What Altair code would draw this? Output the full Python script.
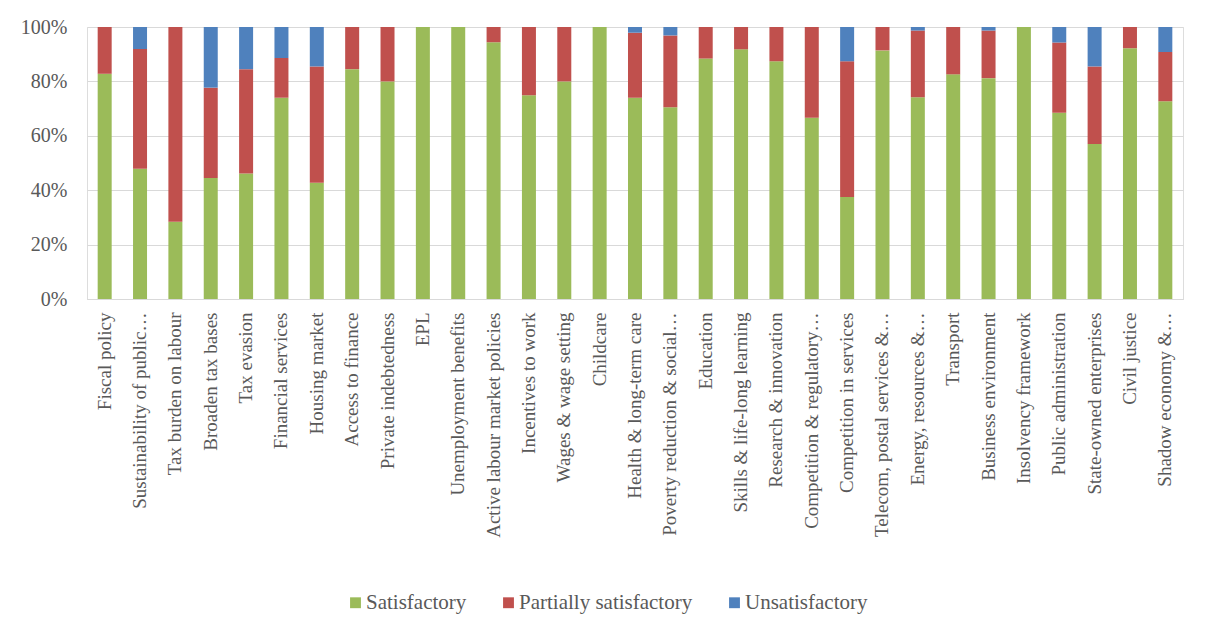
import altair as alt
import pandas as pd

categories = [
    "Fiscal policy", "Sustainability of public…", "Tax burden on labour", "Broaden tax bases",
    "Tax evasion", "Financial services", "Housing market", "Access to finance",
    "Private indebtedness", "EPL", "Unemployment benefits", "Active labour market policies",
    "Incentives to work", "Wages & wage setting", "Childcare", "Health & long-term care",
    "Poverty reduction & social…", "Education", "Skills & life-long learning",
    "Research & innovation", "Competition & regulatory…", "Competition in services",
    "Telecom, postal services &…", "Energy, resources &…", "Transport", "Business environment",
    "Insolvency framework", "Public administration", "State-owned enterprises",
    "Civil justice", "Shadow economy &…",
]

satisfactory = [82.8, 47.9, 28.4, 44.5, 46.1, 74.0, 42.7, 84.5, 80.0, 100, 100, 94.4, 74.9,
                80.0, 100, 74.0, 70.5, 88.4, 91.8, 87.4, 66.6, 37.5, 91.4, 74.2, 82.6, 81.2,
                100, 68.5, 57.0, 92.2, 72.7]
partially = [17.2, 44.0, 71.6, 33.2, 38.4, 14.6, 42.8, 15.5, 20.0, 0, 0, 5.6, 25.1,
             20.0, 0, 23.9, 26.4, 11.6, 8.2, 12.6, 33.4, 49.9, 8.6, 24.5, 17.4, 17.5,
             0, 25.8, 28.5, 7.8, 18.1]
unsatisfactory = [0, 8.1, 0, 22.3, 15.5, 11.4, 14.5, 0, 0, 0, 0, 0, 0,
                  0, 0, 2.1, 3.1, 0, 0, 0, 0, 12.6, 0, 1.3, 0, 1.3,
                  0, 5.7, 14.5, 0, 9.2]

series = ["Satisfactory", "Partially satisfactory", "Unsatisfactory"]
colors = ["#9BBB59", "#C0504D", "#4F81BD"]

rows = []
for i, c in enumerate(categories):
    for k, (name, vals) in enumerate(zip(series, [satisfactory, partially, unsatisfactory])):
        rows.append({"category": c, "series": name, "value": vals[i], "order": k})
df = pd.DataFrame(rows)

FONT = "Liberation Serif"
GRAY = "#595959"

chart = alt.Chart(df).mark_bar().encode(
    x=alt.X("category:N", sort=categories,
            scale=alt.Scale(paddingInner=0.604, paddingOuter=0.302),
            axis=alt.Axis(title=None, labelAngle=-90, ticks=False, labelPadding=13,
                          labelFont=FONT, labelFontSize=19, labelColor=GRAY,
                          domainColor="#D9D9D9", domainWidth=1, labelLimit=400)),
    y=alt.Y("value:Q", stack="zero", scale=alt.Scale(domain=[0, 100], nice=False),
            axis=alt.Axis(title=None, values=[0, 20, 40, 60, 80, 100],
                          labelExpr="datum.value + '%'", ticks=False, domain=False,
                          labelPadding=20, minExtent=60, maxExtent=60,
                          labelFont=FONT, labelFontSize=20, labelColor=GRAY,
                          gridColor="#D9D9D9", gridWidth=1)),
    color=alt.Color("series:N", scale=alt.Scale(domain=series, range=colors),
                    legend=alt.Legend(title=None, orient="none", legendX=258, legendY=565,
                                      direction="horizontal", symbolType="square",
                                      symbolSize=118, symbolStrokeWidth=0,
                                      labelFont=FONT, labelFontSize=21, labelColor=GRAY,
                                      labelLimit=400, columnPadding=31, labelOffset=0)),
    order=alt.Order("order:Q"),
).properties(
    width=1096, height=272,
    padding={"left": 12, "top": 9, "right": 10, "bottom": 10},
).configure_view(stroke=None).configure(background="white")

chart.save("out.html", embed_options={"renderer": "svg", "actions": False})
